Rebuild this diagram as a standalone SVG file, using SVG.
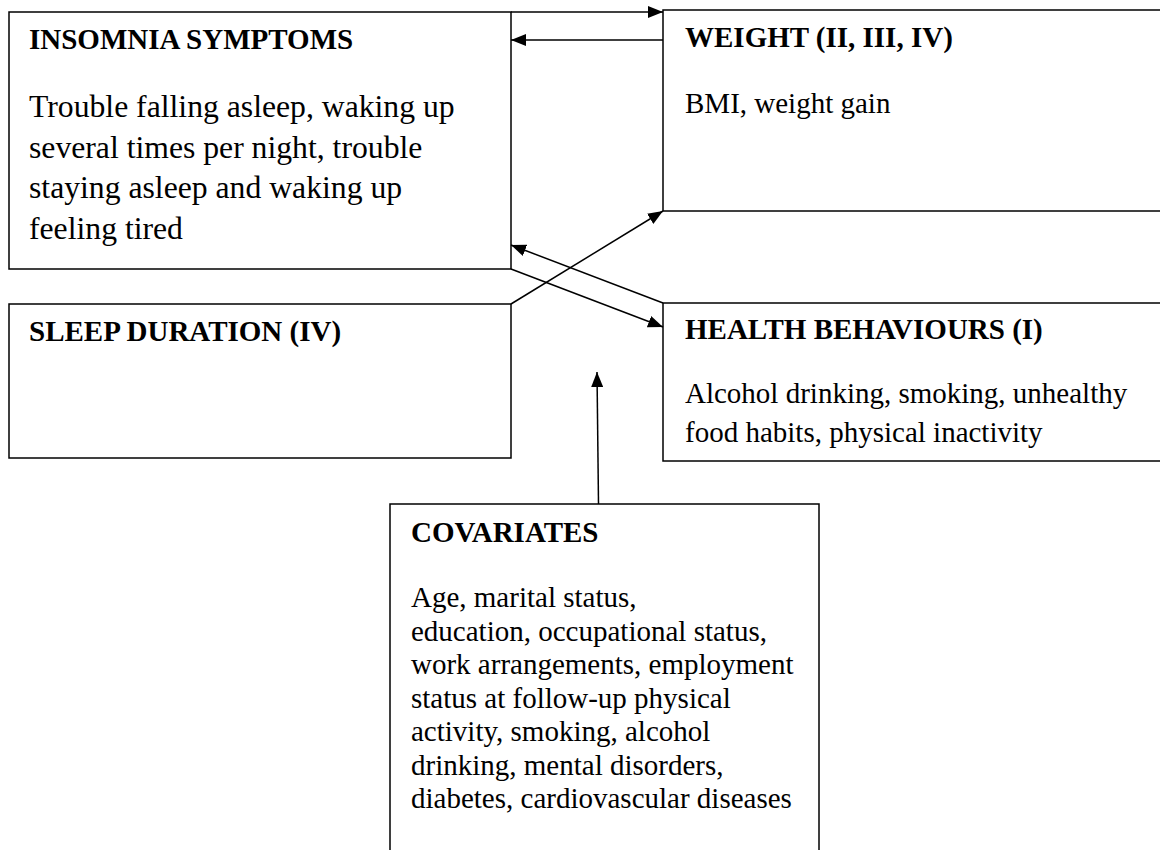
<svg xmlns="http://www.w3.org/2000/svg" width="1160" height="850" viewBox="0 0 1160 850">
<style>
.box{fill:#fff;stroke:#000;stroke-width:1.5}
.h{font-family:"Liberation Serif","Times New Roman",serif;font-weight:bold;font-size:29px;fill:#000}
.t{font-family:"Liberation Serif","Times New Roman",serif;font-size:29px;fill:#000}
.t2{font-family:"Liberation Serif","Times New Roman",serif;font-size:31.7px;fill:#000}
.c{stroke:#000;stroke-width:1.5;fill:none;marker-end:url(#ah)}
</style>
<defs>
<marker id="ah" markerUnits="userSpaceOnUse" markerWidth="16" markerHeight="12" refX="15" refY="6" orient="auto">
<path d="M0,0 L15,6 L0,12 z" fill="#000"/>
</marker>
</defs>
<rect width="1160" height="850" fill="#fff"/>
<g id="insomnia">
<rect class="box" x="9" y="12" width="502" height="257"/>
<text class="h" x="29" y="49">INSOMNIA SYMPTOMS</text>
<text class="t2" x="29" y="117">Trouble falling asleep, waking up</text>
<text class="t2" x="29" y="158">several times per night, trouble</text>
<text class="t2" x="29" y="198">staying asleep and waking up</text>
<text class="t2" x="29" y="239">feeling tired</text>
</g>
<g id="weight">
<rect class="box" x="663" y="10" width="510" height="201"/>
<text class="h" x="685" y="47">WEIGHT (II, III, IV)</text>
<text class="t" x="685" y="113">BMI, weight gain</text>
</g>
<g id="sleep">
<rect class="box" x="9" y="304" width="502" height="154"/>
<text class="h" x="29" y="341">SLEEP DURATION (IV)</text>
</g>
<g id="health">
<rect class="box" x="663" y="303" width="510" height="158"/>
<text class="h" x="685" y="339">HEALTH BEHAVIOURS (I)</text>
<text class="t" x="685" y="403">Alcohol drinking, smoking, unhealthy</text>
<text class="t" x="685" y="442">food habits, physical inactivity</text>
</g>
<g id="covariates">
<rect class="box" x="390" y="504" width="429" height="360"/>
<text class="h" x="411" y="542">COVARIATES</text>
<text class="t" x="411" y="607">Age, marital status,</text>
<text class="t" x="411" y="640.5">education, occupational status,</text>
<text class="t" x="411" y="674">work arrangements, employment</text>
<text class="t" x="411" y="707.5">status at follow-up physical</text>
<text class="t" x="411" y="741">activity, smoking, alcohol</text>
<text class="t" x="411" y="774.5">drinking, mental disorders,</text>
<text class="t" x="411" y="808">diabetes, cardiovascular diseases</text>
</g>
<g id="connectors">
<line class="c" x1="511" y1="12" x2="663" y2="12"/>
<line class="c" x1="663" y1="40" x2="511" y2="40"/>
<line class="c" x1="511" y1="304" x2="663" y2="211"/>
<line class="c" x1="663" y1="303" x2="511" y2="245"/>
<line class="c" x1="511" y1="269" x2="663" y2="327"/>
<line class="c" x1="598.5" y1="504" x2="597" y2="372"/>
</g>
</svg>
